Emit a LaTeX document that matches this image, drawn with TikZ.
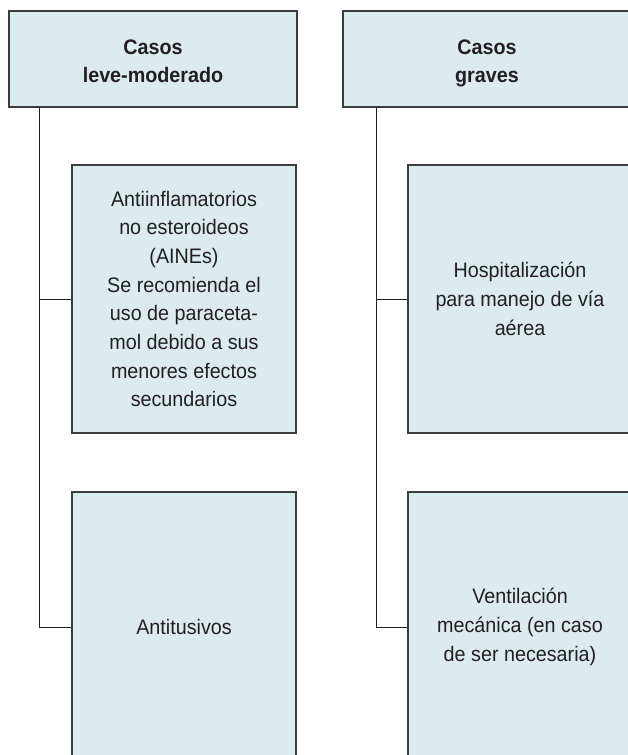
\documentclass[tikz,border=0pt]{standalone}
\usepackage{fontspec}
\setmainfont[FakeStretch=0.94]{Liberation Sans}
\definecolor{boxfill}{HTML}{DCEBEE}
\definecolor{boxline}{HTML}{3C3C3C}
\definecolor{txt}{HTML}{231F20}
\newcommand{\hdrtext}[1]{\begin{tabular}{@{}c@{}}\rule{0pt}{27.6pt}#1\end{tabular}}
\begin{document}
\begin{tikzpicture}[x=1pt,y=-1pt,
  box/.style={draw=boxline, line width=1.1pt, fill=boxfill, rectangle, inner sep=0pt,
    align=center, text=txt, font=\fontsize{21}{28.7}\selectfont},
  headbox/.style={box, minimum width=288pt, minimum height=96pt, font=\bfseries\fontsize{21}{28}\selectfont},
  itembox/.style={box, minimum width=224pt},
  conn/.style={draw=txt, line width=1pt}]
\useasboundingbox (0,0) rectangle (628,755);
\clip (0,0) rectangle (628,755);
\fill[white] (0,0) rectangle (628,755);

\node[headbox] (h1) at (153,59) {\hdrtext{Casos\\leve-moderado}};
\node[headbox] (h2) at (487,59) {\hdrtext{Casos\\graves}};

\node[itembox, minimum height=268pt] (b1) at (184,299)
  {Antiinflamatorios\\no esteroideos\\(AINEs)\\Se recomienda el\\uso de paraceta-\\mol debido a sus\\menores efectos\\secundarios};
\node[itembox, minimum height=270pt] (b2) at (184,627) {Antitusivos};

\node[itembox, minimum height=268pt] (r1) at (520,299)
  {Hospitalización\\para manejo de vía\\aérea};
\node[itembox, minimum height=270pt] (r2) at (520,627)
  {Ventilación\\mecánica (en caso\\de ser necesaria)};

\draw[conn] (h1.south west) ++(31,0) coordinate (t1) |- (b1.west);
\draw[conn] (t1) |- (b2.west);
\draw[conn] (h2.south west) ++(34,0) coordinate (t2) |- (r1.west);
\draw[conn] (t2) |- (r2.west);
\end{tikzpicture}
\end{document}
